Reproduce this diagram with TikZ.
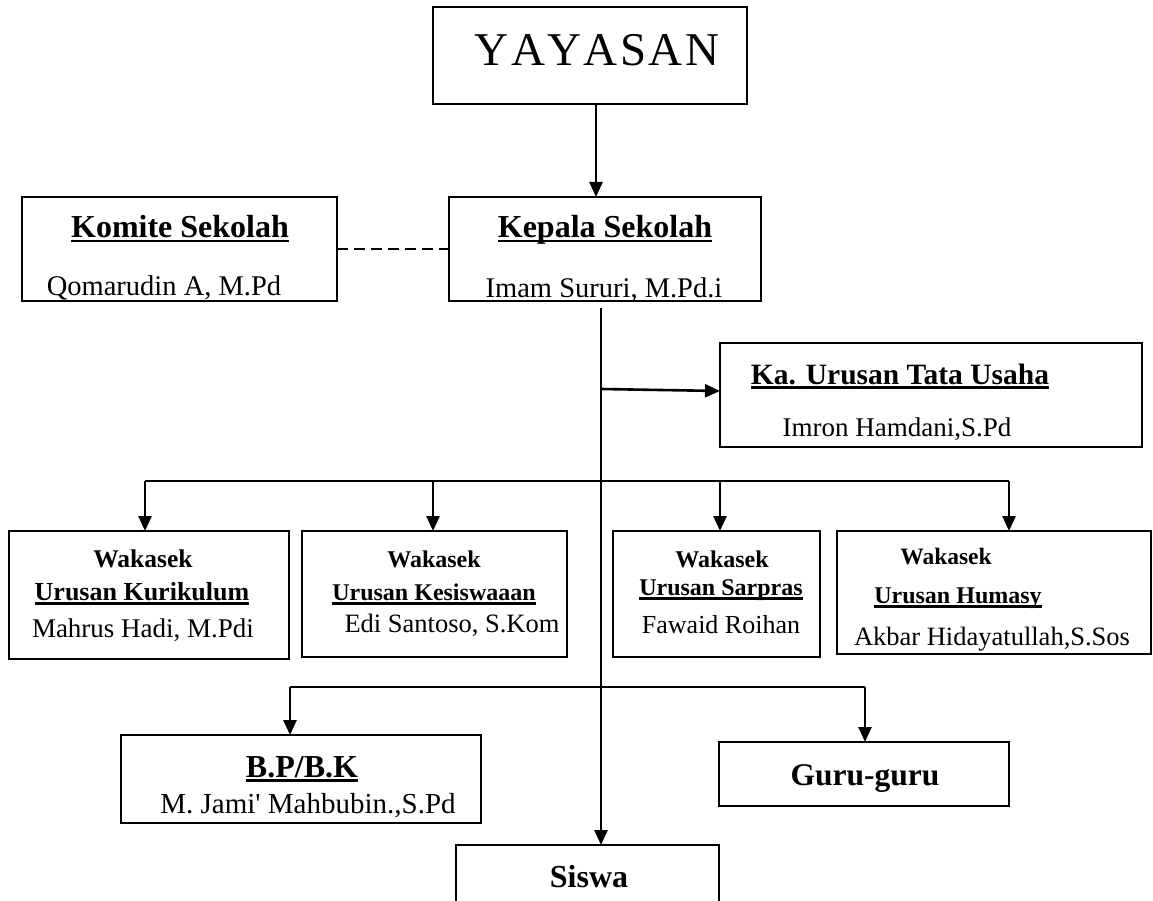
\documentclass[tikz,border=0pt]{standalone}
\usepackage{fontspec}
\setmainfont{Liberation Serif}
\usetikzlibrary{arrows.meta}
\newcommand{\fsz}[1]{\fontsize{#1}{#1}\selectfont}
\newcommand{\ulx}[1]{\setbox0=\hbox{#1}\rlap{\copy0}\rule[-4.5pt]{\wd0}{2.4pt}}
\begin{document}
\begin{tikzpicture}[x=1pt,y=-1pt,
  box/.style={draw, line width=2.2pt, inner sep=0pt, outer sep=0pt},
  openbox/.style={inner sep=0pt, outer sep=0pt},
  txt/.style={inner sep=0pt, outer sep=0pt, anchor=base},
  arr/.style={line width=2.6pt, -{Triangle[length=15pt,width=13pt]}},
  ln/.style={line width=2.6pt},
  dsh/.style={line width=2.6pt, dash pattern=on 11pt off 6pt},
]
\useasboundingbox (0,0) rectangle (1153,901);

% boxes
\node[box, minimum width=314pt, minimum height=97pt] (yay) at (590,55.5) {};
\node[box, minimum width=315pt, minimum height=104pt] (kom) at (179.5,249) {};
\node[box, minimum width=312pt, minimum height=104pt] (kep) at (605,249) {};
\node[box, minimum width=422pt, minimum height=104pt] (tu) at (931,395) {};
\node[box, minimum width=280pt, minimum height=128pt] (wk1) at (149,595) {};
\node[box, minimum width=265pt, minimum height=126pt] (wk2) at (434.5,594) {};
\node[box, minimum width=207pt, minimum height=126pt] (wk3) at (716.5,594) {};
\node[box, minimum width=314pt, minimum height=123pt] (wk4) at (994,592.5) {};
\node[box, minimum width=360pt, minimum height=88pt] (bp) at (301,779) {};
\node[box, minimum width=290pt, minimum height=64pt] (guru) at (864,774) {};
\node[openbox, minimum width=263pt, minimum height=56pt] (siswa) at (587.5,873) {};
\draw[line width=2.2pt] (siswa.south west) -- (siswa.north west) -- (siswa.north east) -- (siswa.south east);

% texts
\node[txt] (yayt) at (597,66) {\fsz{47}Y\kern2.5pt A\kern2.5pt Y\kern2.5pt A\kern2.5pt S\kern2.5pt A\kern2.5pt N};
\node[txt] (komt) at (180,238) {\fsz{32}\bfseries\ulx{Komite Sekolah}};
\node[txt] (komn) at (164,295) {\fsz{28.5}Qomarudin A, M.Pd};
\node[txt] (kept) at (605,238) {\fsz{32}\bfseries\ulx{Kepala Sekolah}};
\node[txt] (kepn) at (604,297) {\fsz{28.5}Imam Sururi, M.Pd.i};
\node[txt] (tut) at (900,384) {\fsz{29.5}\bfseries\ulx{Ka. Urusan Tata Usaha}};
\node[txt] (tun) at (897,436) {\fsz{27}Imron Hamdani,S.Pd};

\node[txt] (w1a) at (143,567) {\fsz{25.5}\bfseries Wakasek};
\node[txt] (w1b) at (142,600) {\fsz{26}\bfseries\ulx{Urusan Kurikulum}};
\node[txt] (w1c) at (143,637) {\fsz{27}Mahrus Hadi, M.Pdi};
\node[txt] (w2a) at (434,567) {\fsz{24}\bfseries Wakasek};
\node[txt] (w2b) at (434,600) {\fsz{24}\bfseries\ulx{Urusan Kesiswaaan}};
\node[txt] (w2c) at (452,632) {\fsz{26.5}Edi Santoso, S.Kom};
\node[txt] (w3a) at (722,567) {\fsz{24}\bfseries Wakasek};
\node[txt] (w3b) at (721,595) {\fsz{24}\bfseries\ulx{Urusan Sarpras}};
\node[txt] (w3c) at (721,633) {\fsz{26}Fawaid Roihan};
\node[txt] (w4a) at (946,564) {\fsz{23.5}\bfseries Wakasek};
\node[txt] (w4b) at (958,603) {\fsz{24}\bfseries\ulx{Urusan Humasy}};
\node[txt] (w4c) at (992,645) {\fsz{26.5}Akbar Hidayatullah,S.Sos};

\node[txt] (bpt) at (302,777) {\fsz{32}\bfseries\ulx{B.P/B.K}};
\node[txt] (bpn) at (308,813) {\fsz{29}M. Jami\textquotesingle\ Mahbubin.,S.Pd};
\node[txt] (gurut) at (865,785) {\fsz{31.5}\bfseries Guru-guru};
\node[txt] (siswat) at (589,887) {\fsz{32}\bfseries Siswa};

% junction coordinates
\coordinate (ya) at (596,0);
\coordinate (vtop) at (601,308);
\coordinate (tuj) at (601,389);
\coordinate (a1) at (145,481);
\coordinate (a2) at (433,481);
\coordinate (a3) at (720,481);
\coordinate (a4) at (1009,481);
\coordinate (b1) at (290,687);
\coordinate (b2) at (865,687);

% connectors
\draw[arr] (ya |- yay.south) -- (ya |- kep.north);
\draw[dsh] (kom.east) -- (kep.west);
\draw[arr] (vtop) -- (vtop |- siswa.north);
\draw[arr] (tuj) -- ([yshift=-2pt]tuj -| tu.west);
\draw[ln] (a1) -- (a4);
\draw[arr] (a1) -- (a1 |- wk1.north);
\draw[arr] (a2) -- (a2 |- wk2.north);
\draw[arr] (a3) -- (a3 |- wk3.north);
\draw[arr] (a4) -- (a4 |- wk4.north);
\draw[ln] (b1) -- (b2);
\draw[arr] (b1) -- (b1 |- bp.north);
\draw[arr] (b2) -- (b2 |- guru.north);
\end{tikzpicture}
\end{document}
